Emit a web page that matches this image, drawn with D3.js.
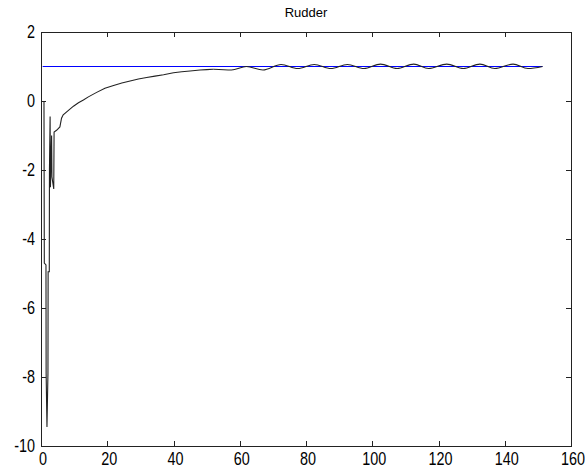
<!DOCTYPE html>
<html><head><meta charset="utf-8">
<script src="https://cdn.jsdelivr.net/npm/d3@7"></script>
<style>body{margin:0;background:#fff;}</style>
</head><body>
<svg id="chart" width="585" height="472"></svg>
<script>
// ---- data ----
const chartTitle = "Rudder";
const xTickValues = [0, 20, 40, 60, 80, 100, 120, 140, 160];
const yTickValues = [2, 0, -2, -4, -6, -8, -10];

// rudder response, transient part (sampled densely)
const timeEarly = [0.9, 1.0, 1.5, 1.55, 1.8, 2.1, 2.15, 2.5, 2.55, 2.75, 2.85, 3.2, 3.3, 3.85, 3.95,
  4.7, 5.7, 6.2, 6.7, 8.2, 9.8, 11.3, 12.8, 14.3, 16.8, 19.3, 21.9, 24.4, 26.9, 29.4, 31.9, 34.4,
  37, 40, 42.5, 45, 48, 50, 52];
const rudderEarly = [0, -4.7, -4.75, -7.9, -9.45, -7.9, -4.95, -4.95, -2.0, -0.45, -2.5, -1.0, -2.2, -2.55, -0.9,
  -0.85, -0.75, -0.5, -0.4, -0.28, -0.15, -0.05, 0.03, 0.12, 0.25, 0.37, 0.45, 0.52, 0.58, 0.64, 0.68, 0.72,
  0.76, 0.82, 0.85, 0.87, 0.9, 0.91, 0.92];

// rudder response, oscillating part (peaks and dips)
const timeOsc = [52, 57.5, 62, 67, 72.5, 77.5, 82.5, 87.5, 92.5, 97.5, 102.5, 107.5, 112.5, 117,
  122.5, 127.5, 132.5, 137, 142.5, 147, 151.4];
const rudderOsc = [0.92, 0.9, 1.0, 0.9, 1.06, 0.94, 1.06, 0.94, 1.06, 0.94, 1.07, 0.94, 1.07, 0.94,
  1.07, 0.94, 1.07, 0.94, 1.07, 0.94, 1.0];

// reference (commanded) rudder
const refTime = [0.5, 151.4];
const refValue = [1, 1];

// ---- layout ----
const svg = d3.select("#chart");
const L = 41, R = 571, T = 32, B = 446;
const x = d3.scaleLinear().domain([0, 160]).range([L, R]);
const y = d3.scaleLinear().domain([-10, 2]).range([B, T]);

svg.append("rect").attr("width", 585).attr("height", 472).attr("fill", "#fff");

svg.append("defs").append("clipPath").attr("id", "clip")
  .append("rect").attr("x", L).attr("y", T).attr("width", R - L).attr("height", B - T);

const plot = svg.append("g").attr("clip-path", "url(#clip)");

const line = d3.line().x(d => x(d[0])).y(d => y(d[1]));
const smooth = d3.line().x(d => x(d[0])).y(d => y(d[1])).curve(d3.curveMonotoneX);

plot.append("path").datum(refTime.map((t, i) => [t, refValue[i]]))
  .attr("d", line).attr("fill", "none").attr("stroke", "#0000ff").attr("stroke-width", 1.2);

plot.append("path").datum(timeEarly.map((t, i) => [t, rudderEarly[i]]))
  .attr("d", line).attr("fill", "none").attr("stroke", "#222").attr("stroke-width", 1.1);
plot.append("path").datum(timeOsc.map((t, i) => [t, rudderOsc[i]]))
  .attr("d", smooth).attr("fill", "none").attr("stroke", "#222").attr("stroke-width", 1.1);

// ---- axes (MATLAB style box with inward ticks) ----
const axisColor = "#222";
const tl = 5;
const gAx = svg.append("g").attr("stroke", axisColor).attr("stroke-width", 1).attr("shape-rendering", "crispEdges");
gAx.append("rect").attr("x", L).attr("y", T).attr("width", R - L).attr("height", B - T).attr("fill", "none");

xTickValues.forEach(v => {
  const px = Math.round(x(v));
  gAx.append("line").attr("x1", px).attr("x2", px).attr("y1", B).attr("y2", B - tl);
  gAx.append("line").attr("x1", px).attr("x2", px).attr("y1", T).attr("y2", T + tl);
});
yTickValues.forEach(v => {
  const py = Math.round(y(v));
  gAx.append("line").attr("x1", L).attr("x2", L + tl).attr("y1", py).attr("y2", py);
  gAx.append("line").attr("x1", R).attr("x2", R - tl).attr("y1", py).attr("y2", py);
});

const fontFam = "'Liberation Sans', Arial, Helvetica, sans-serif";
const fs = 18, sx = 0.8;

xTickValues.forEach(v => {
  svg.append("g").attr("transform", `translate(${x(v) + 2},${B + 19}) scale(${sx},1)`)
    .append("text").attr("text-anchor", "middle").attr("font-family", fontFam)
    .attr("font-size", fs).attr("fill", "#000").text(v);
});
yTickValues.forEach(v => {
  svg.append("g").attr("transform", `translate(${L - 6},${y(v) + 6}) scale(${sx},1)`)
    .append("text").attr("text-anchor", "end").attr("font-family", fontFam)
    .attr("font-size", fs).attr("fill", "#000").text(v);
});

svg.append("text").attr("x", (L + R) / 2).attr("y", 17).attr("text-anchor", "middle")
  .attr("font-family", fontFam).attr("font-size", 13).attr("fill", "#000").text(chartTitle);
</script>
</body></html>
